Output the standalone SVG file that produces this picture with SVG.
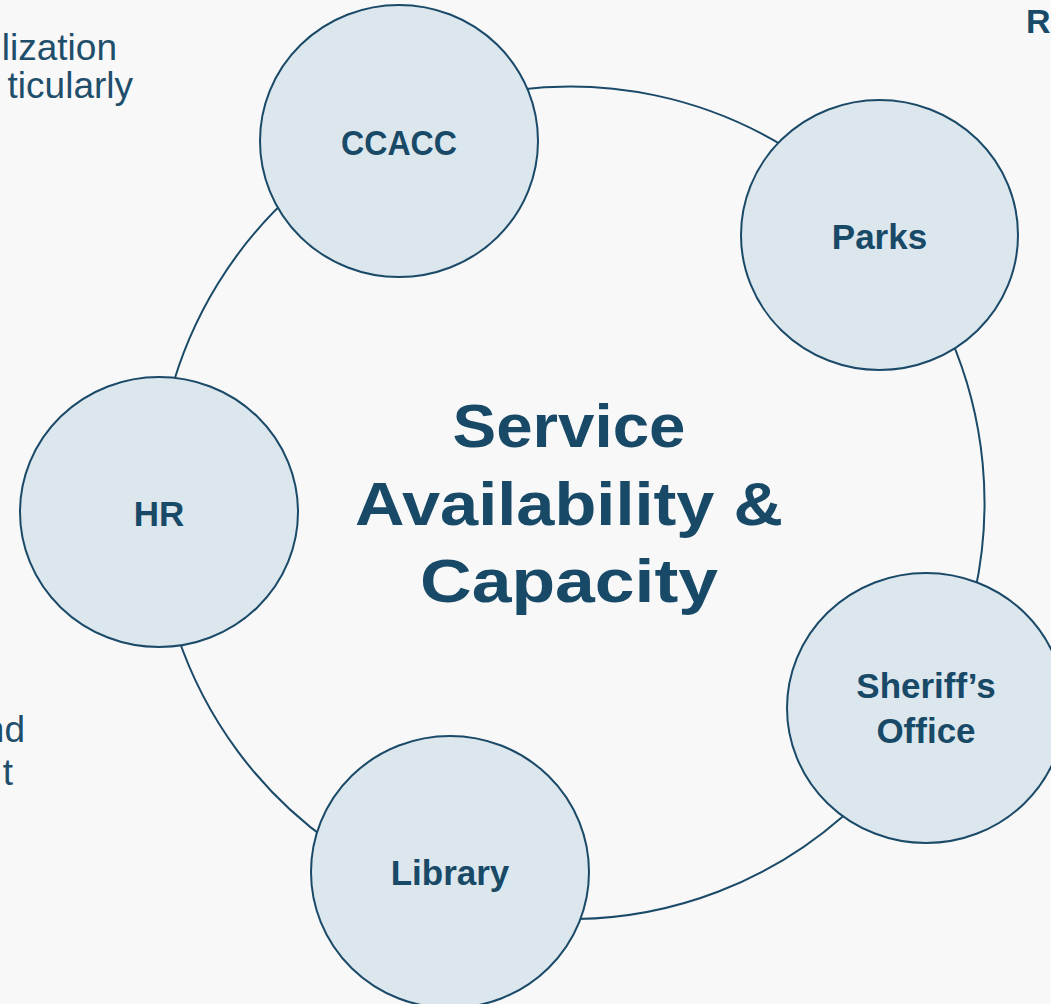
<svg xmlns="http://www.w3.org/2000/svg" width="1051" height="1004" viewBox="0 0 1051 1004">
<style>
.bg{fill:#f8f8f8}
.node{fill:#dce6ed;stroke:#1a4a68;stroke-width:2}
.ring{fill:none;stroke:#1a4a68;stroke-width:2}
.lbl{font-family:"Liberation Sans",Arial,sans-serif;font-weight:700;font-size:35px;fill:#184a68;text-anchor:middle}
.title{font-family:"Liberation Sans",Arial,sans-serif;font-weight:700;font-size:62px;fill:#184a68;text-anchor:middle}
.side{font-family:"Liberation Sans",Arial,sans-serif;font-size:37px;fill:#1f4e6b}
.sideb{font-family:"Liberation Sans",Arial,sans-serif;font-weight:700;font-size:34px;fill:#184a68}
</style>
<rect class="bg" x="0" y="0" width="1051" height="1004"/>
<g id="side-text">
<text class="side" x="117" y="60" text-anchor="end">lization</text>
<text class="side" x="133" y="98" text-anchor="end">ticularly</text>
<text class="side" x="25" y="742" text-anchor="end">nd</text>
<text class="side" x="13" y="785" text-anchor="end">t</text>
<text class="sideb" x="1026" y="33">Re</text>
</g>
<g id="connectors">
<path class="ring" d="M393,126.5 A414,416 0 0 1 883,230"/>
<path class="ring" d="M883,230 A414,416 0 0 1 929,711"/>
<path class="ring" d="M929,711 A414,416 0 0 1 442,898.6"/>
<path class="ring" d="M442,898.6 A414,416 0 0 1 156,512"/>
<path class="ring" d="M156,512 A414,416 0 0 1 393,126.5"/>
</g>
<g id="center">
<text class="title" x="569" y="447" textLength="233" lengthAdjust="spacingAndGlyphs">Service</text>
<text class="title" x="569" y="525" textLength="428" lengthAdjust="spacingAndGlyphs">Availability &amp;</text>
<text class="title" x="569" y="602" textLength="298" lengthAdjust="spacingAndGlyphs">Capacity</text>
</g>
<g id="node-ccacc">
<ellipse class="node" cx="399" cy="141" rx="139" ry="136"/>
<text class="lbl" x="399" y="155" textLength="116" lengthAdjust="spacingAndGlyphs">CCACC</text>
</g>
<g id="node-parks">
<ellipse class="node" cx="879.5" cy="235" rx="138.5" ry="135"/>
<text class="lbl" x="879.5" y="249">Parks</text>
</g>
<g id="node-sheriff">
<ellipse class="node" cx="926" cy="708" rx="139" ry="135"/>
<text class="lbl" x="926" y="698">Sheriff’s</text>
<text class="lbl" x="926" y="743">Office</text>
</g>
<g id="node-library">
<ellipse class="node" cx="450" cy="872" rx="139" ry="136"/>
<text class="lbl" x="450" y="885">Library</text>
</g>
<g id="node-hr">
<ellipse class="node" cx="159" cy="512" rx="139" ry="135"/>
<text class="lbl" x="159" y="526">HR</text>
</g>
</svg>
